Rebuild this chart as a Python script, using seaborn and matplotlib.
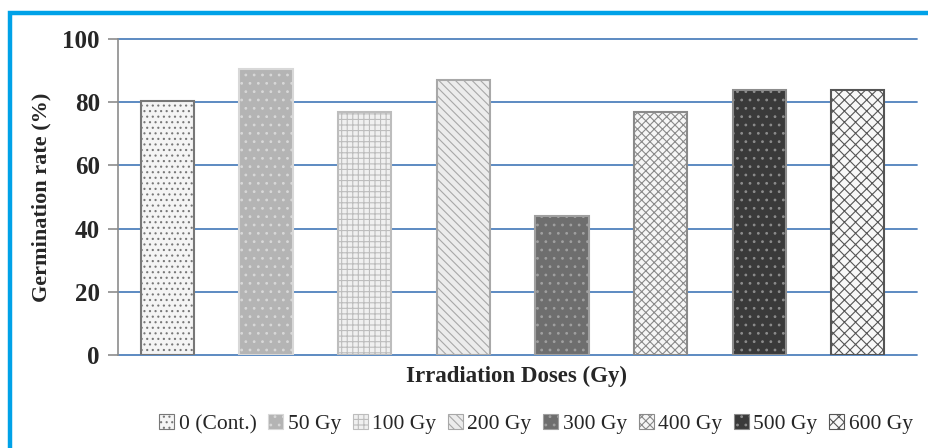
import matplotlib
matplotlib.use("Agg")
import matplotlib.pyplot as plt
import matplotlib.patches as mpatches
import pandas as pd
import seaborn as sns

# data
doses = ["0 (Cont.)", "50 Gy", "100 Gy", "200 Gy", "300 Gy", "400 Gy", "500 Gy", "600 Gy"]
germination = [80.5, 90.5, 77, 87, 44, 77, 84, 84]

# bar looks (fill, hatch colour, hatch)
fills = ["#f4f4f4", "#b4b4b4", "#f0f0f0", "#ececec", "#6e6e6e", "#f6f6f6", "#3a3a3a", "#f8f8f8"]
edges = ["#777777", "#d8d8d8", "#bdbdbd", "#a8a8a8", "#a0a0a0", "#8a8a8a", "#8c8c8c", "#555555"]
hatches = ["...", "..", "+++", "\\\\\\\\", "..", "xxxx", "..", "xxx"]

df = pd.DataFrame({"Dose": doses, "Germination": germination})

sns.set_style("white")
plt.rcParams["font.family"] = ["Liberation Serif", "DejaVu Serif"]
plt.rcParams["hatch.linewidth"] = 0.8

fig = plt.figure(figsize=(9.29, 4.48), dpi=100)
ax = fig.add_axes([118 / 929, 1 - 355 / 448, 799 / 929, 316 / 448])

sns.barplot(data=df, x="Dose", y="Germination", hue="Dose", palette=fills,
            width=0.54, legend=False, ax=ax, zorder=3)

for bar, fc, ec, h in zip(ax.patches, fills, edges, hatches):
    bar.set_facecolor(fc)
    bar.set_edgecolor(ec)
    bar.set_hatch(h)
    bar.set_linewidth(1.5)

ax.set_ylim(0, 100)
ax.set_xlim(-0.5, 7.6)
ax.set_yticks([0, 20, 40, 60, 80, 100])
ax.yaxis.grid(True, color="#4f81bd", linewidth=1.3, zorder=0)
ax.set_axisbelow(True)
for gl in ax.get_ygridlines():
    gl.set_clip_on(False)

for side in ["top", "right", "bottom"]:
    ax.spines[side].set_visible(False)
ax.spines["left"].set_color("#8c8c8c")
ax.spines["left"].set_linewidth(1.2)
ax.spines["left"].set_zorder(4)

ax.tick_params(axis="y", direction="out", length=7, width=1.2, color="#8c8c8c",
               labelsize=18, pad=6, left=True)
ax.tick_params(axis="x", length=0, labelbottom=False)
for lab in ax.get_yticklabels():
    lab.set_fontweight("bold")

ax.set_ylabel("Germination rate (%)", fontsize=16, fontweight="bold", labelpad=8)
ax.set_xlabel("")
fig.text(517 / 929, 1 - 376 / 448, "Irradiation Doses (Gy)", ha="center", va="center",
         fontsize=16.5, fontweight="bold")

handles = [mpatches.Patch(facecolor=fc, edgecolor=ec, hatch=h, linewidth=0.8)
           for fc, ec, h in zip(fills, edges, hatches)]
fig.legend(handles, doses, loc="center", bbox_to_anchor=(536 / 929, 1 - 424 / 448),
           ncol=8, frameon=False, fontsize=15.5, handlelength=0.7, handleheight=0.7,
           handletextpad=0.2, columnspacing=0.55)

# blue frame around the figure (top and left edges visible)
frame = mpatches.Rectangle((10 / 929, -0.1), 1.2, 1 - 13 / 448 + 0.1,
                           transform=fig.transFigure, fill=False,
                           edgecolor="#00a2e8", linewidth=3.2, zorder=10)
fig.patches.append(frame)

fig.savefig("out.png", dpi=100)
